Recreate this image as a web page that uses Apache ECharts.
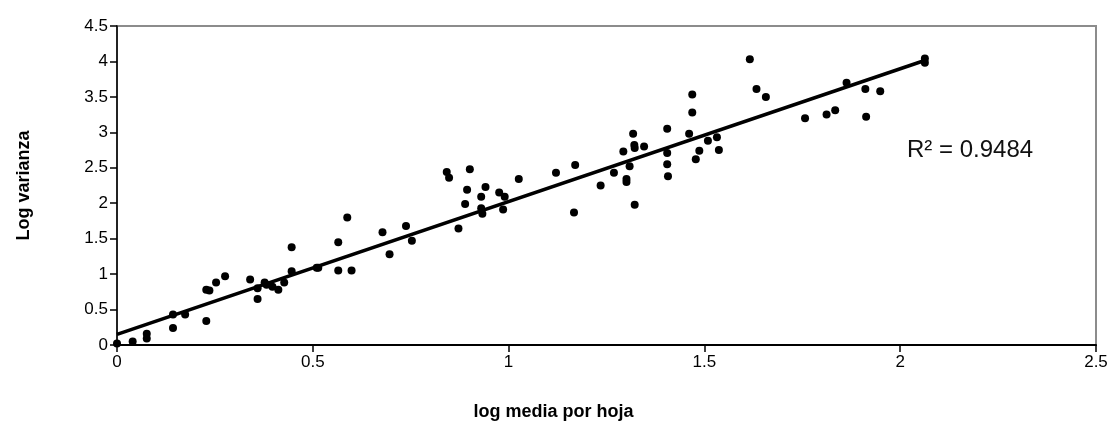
<!DOCTYPE html>
<html>
<head>
<meta charset="utf-8">
<script src="https://cdn.jsdelivr.net/npm/echarts@6/dist/echarts.min.js"></script>
<style>
html,body{margin:0;padding:0;background:#fff;}
#chart{width:1116px;height:443px;}
</style>
</head>
<body>
<div id="chart"></div>
<script>
// log media por hoja (x)
var xValues = [0,0.04,0.076,0.076,0.143,0.143,0.174,0.228,0.228,0.236,0.253,0.276,0.34,0.359,0.359,0.377,0.382,0.397,0.412,0.427,0.446,0.446,0.51,0.514,0.565,0.565,0.588,0.599,0.678,0.696,0.738,0.753,0.842,0.848,0.872,0.889,0.894,0.901,0.93,0.93,0.933,0.941,0.976,0.99,0.986,1.026,1.121,1.167,1.17,1.235,1.269,1.293,1.301,1.301,1.309,1.318,1.321,1.322,1.322,1.346,1.405,1.405,1.405,1.407,1.469,1.469,1.461,1.487,1.478,1.509,1.532,1.537,1.616,1.633,1.657,1.757,1.812,1.834,1.863,1.911,1.949,1.913,2.063,2.063];
// Log varianza (y)
var yValues = [0.02,0.05,0.16,0.09,0.24,0.43,0.43,0.34,0.78,0.77,0.88,0.97,0.925,0.65,0.80,0.88,0.85,0.82,0.78,0.88,1.38,1.04,1.09,1.09,1.45,1.05,1.80,1.05,1.59,1.28,1.68,1.47,2.44,2.36,1.645,1.99,2.19,2.48,2.09,1.93,1.85,2.23,2.15,2.09,1.91,2.34,2.43,1.87,2.54,2.25,2.43,2.73,2.34,2.30,2.52,2.98,2.82,2.78,1.98,2.80,3.05,2.71,2.55,2.38,3.535,3.28,2.98,2.74,2.62,2.88,2.93,2.75,4.03,3.61,3.50,3.20,3.25,3.31,3.70,3.61,3.58,3.22,4.04,3.98];
// linear trendline endpoints
var trendX = [0, 2.066];
var trendY = [0.15, 4.02];
var xTicks = [0, 0.5, 1, 1.5, 2, 2.5];
var yTicks = [0, 0.5, 1, 1.5, 2, 2.5, 3, 3.5, 4, 4.5];
var r2Label = 'R² = 0.9484';

var points = xValues.map(function (x, i) { return [x, yValues[i]]; });
var trend = trendX.map(function (x, i) { return [x, trendY[i]]; });

var chart = echarts.init(document.getElementById('chart'), null, {renderer: 'canvas'});
var fontFam = '"Liberation Sans", Arial, sans-serif';
chart.setOption({
  animation: false,
  backgroundColor: '#ffffff',
  grid: {left: 117, right: 20, top: 26, bottom: 98, show: true, borderColor: '#8c8c8c', borderWidth: 2, backgroundColor: '#ffffff'},
  xAxis: {
    type: 'value', min: xTicks[0], max: xTicks[xTicks.length - 1], interval: 0.5,
    name: 'log media por hoja', nameLocation: 'middle', nameGap: 58,
    nameTextStyle: {fontFamily: fontFam, fontSize: 18, fontWeight: 'bold', color: '#000', padding: [0, 106, 0, 0]},
    axisLine: {onZero: false, lineStyle: {color: '#000', width: 2}},
    axisTick: {show: true, inside: false, length: 7, lineStyle: {color: '#000', width: 1.5}},
    axisLabel: {fontFamily: fontFam, fontSize: 17, color: '#000', margin: 9},
    splitLine: {show: false}
  },
  yAxis: {
    type: 'value', min: yTicks[0], max: yTicks[yTicks.length - 1], interval: 0.5,
    name: 'Log varianza', nameLocation: 'middle', nameGap: 84, nameRotate: 90,
    nameTextStyle: {fontFamily: fontFam, fontSize: 18, fontWeight: 'bold', color: '#000'},
    axisLine: {show: true, onZero: false, lineStyle: {color: '#000', width: 1.5}},
    axisTick: {show: true, inside: false, length: 7, lineStyle: {color: '#000', width: 1.5}},
    axisLabel: {fontFamily: fontFam, fontSize: 17, color: '#000', margin: 9},
    splitLine: {show: false}
  },
  series: [
    {
      type: 'scatter', data: points, symbol: 'circle', symbolSize: 8,
      itemStyle: {color: '#000', opacity: 1}, z: 2
    },
    {
      type: 'line', data: trend, symbol: 'none', showSymbol: false,
      lineStyle: {color: '#000', width: 3.5}, z: 3, silent: true
    }
  ],
  graphic: [{
    type: 'text', left: 907, top: 138,
    style: {text: r2Label, fontFamily: fontFam, fontSize: 24, fill: '#111'}
  }]
});
</script>
</body>
</html>
